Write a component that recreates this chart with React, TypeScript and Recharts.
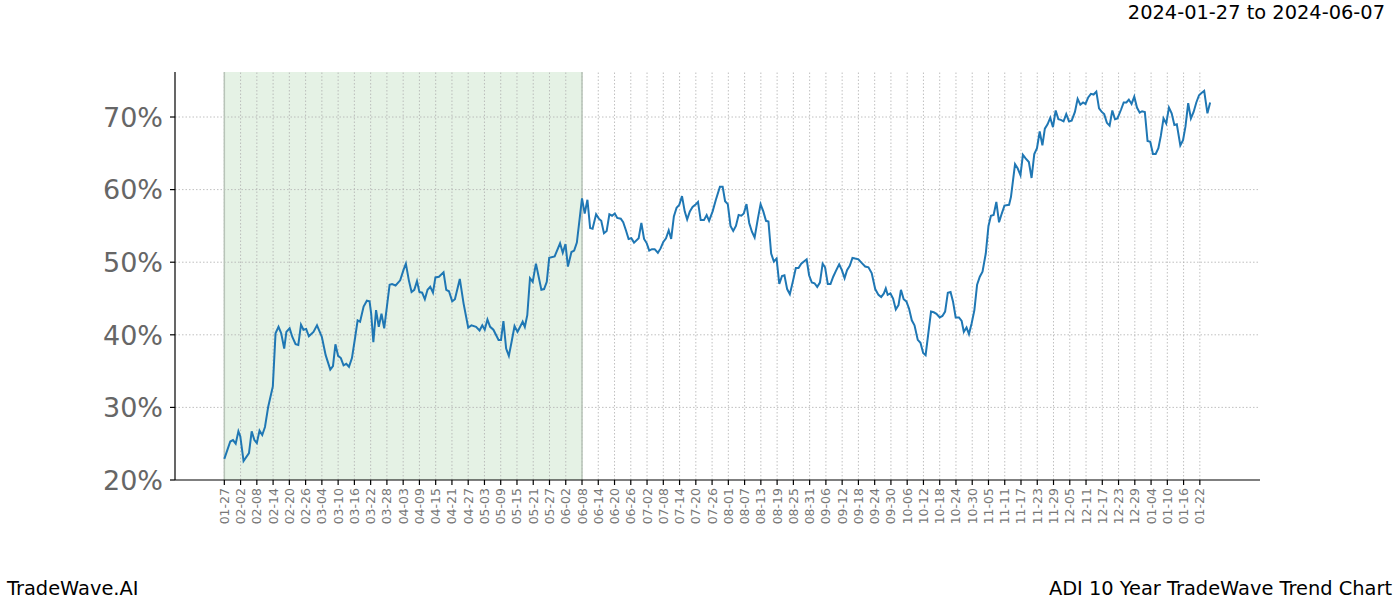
import {
  Line,
  LineChart,
  ReferenceArea,
  ReferenceLine,
  XAxis,
  YAxis,
} from 'recharts'

const FONT = '"DejaVu Sans", sans-serif'

// x tick labels, one every 6 days starting at day 0
const tickLabels = [
  '01-27', '02-02', '02-08', '02-14', '02-20', '02-26', '03-04', '03-10', '03-16', '03-22',
  '03-28', '04-03', '04-09', '04-15', '04-21', '04-27', '05-03', '05-09', '05-15', '05-21',
  '05-27', '06-02', '06-08', '06-14', '06-20', '06-26', '07-02', '07-08', '07-14', '07-20',
  '07-26', '08-01', '08-07', '08-13', '08-19', '08-25', '08-31', '09-06', '09-12', '09-18',
  '09-24', '09-30', '10-06', '10-12', '10-18', '10-24', '10-30', '11-05', '11-11', '11-17',
  '11-23', '11-29', '12-05', '12-11', '12-17', '12-23', '12-29', '01-04', '01-10', '01-16',
  '01-22',
]
const tickDays = tickLabels.map((_, i) => i * 6)

const yTicks = [20, 30, 40, 50, 60, 70]

// shaded training window (days)
const windowStart = 0
const windowEnd = 132

// days since 01-27
const days = [
  0, 2.2, 3.2, 4.2, 5.2, 5.9, 7.1, 9.1, 10.1, 11.1, 12, 13, 14, 15, 16.2, 17.9, 18.9, 20, 21, 22.1,
  22.9, 24.1, 25.1, 26.3, 27.3, 28.3, 29.2, 30.2, 31.2, 32.9, 34.2, 36, 37.4, 39.1, 40.1, 41, 42, 43, 44, 45,
  46, 47.1, 48.3, 49.2, 50.1, 51.4, 52.6, 53.6, 54.2, 55, 56, 57, 58, 59, 61, 61.9, 63.2, 64.9, 66.1, 67,
  68.1, 69.1, 70.1, 71.1, 72, 73, 74, 75, 76, 77, 77.9, 79.2, 80.9, 81.9, 82.9, 84.1, 85.1, 86.9, 88.3, 90,
  91.2, 92.9, 94.2, 95.2, 96.1, 97.1, 98.1, 99.3, 101.2, 102.1, 103, 104, 105, 106, 107.1, 108.2, 110.1, 110.9, 111.8, 112.8,
  113.8, 115, 117, 118, 119, 119.9, 121.9, 123.9, 124.9, 125.9, 126.8, 128.1, 129.1, 130.1, 132, 133, 134, 135, 135.9, 137.2,
  138.2, 139.1, 140.1, 141.1, 142.1, 143.1, 144.1, 145, 146.3, 147.2, 148.2, 149.2, 150.2, 151.2, 152.9, 153.9, 154.9, 155.9, 156.8, 157.8,
  158.8, 160, 161, 162, 163, 164, 164.9, 165.9, 166.9, 167.9, 168.9, 169.9, 170.8, 171.8, 172.8, 173.8, 174.8, 175.8, 177, 178,
  178.9, 180.2, 181.4, 182.9, 183.9, 184.8, 185.8, 186.8, 187.8, 188.8, 189.8, 190.8, 191.7, 192.7, 193.7, 194.7, 195.7, 196.9, 197.9, 198.9,
  199.9, 200.8, 201.8, 202.8, 203.8, 204.8, 205.8, 206.7, 207.7, 208.7, 209.9, 210.9, 211.9, 212.9, 213.9, 214.9, 215.8, 216.8, 217.8, 218.8,
  219.8, 220.8, 221.7, 222.7, 223.7, 224.7, 225.7, 226.9, 227.9, 228.9, 229.8, 230.8, 231.8, 232.8, 234, 235.2, 236.5, 237.7, 238.9, 240.2,
  241.4, 242.4, 243.4, 244.1, 244.8, 245.8, 246.8, 247.8, 248.8, 249.7, 250.7, 251.7, 252.7, 253.7, 254.7, 255.9, 256.9, 257.9, 258.8, 259.8,
  260.8, 261.8, 262.8, 264, 265, 266, 267, 268, 268.9, 269.9, 271.1, 272.1, 272.9, 273.9, 274.8, 275.8, 276.8, 277.8, 278.8, 279.8,
  281, 282, 282.9, 283.9, 284.9, 285.9, 286.9, 287.9, 289.6, 290.3, 291.8, 292.8, 293.8, 294.7, 295.7, 296.9, 297.9, 298.9, 299.9, 300.9,
  301.9, 302.8, 303.8, 304.8, 305.8, 306.8, 307.8, 308.7, 309.7, 310.7, 311.7, 312.7, 313.9, 314.9, 315.9, 316.9, 317.8, 318.8, 319.8, 320.8,
  321.8, 322.8, 323.8, 324.7, 325.7, 326.7, 327.7, 328.7, 329.6, 330.9, 331.9, 332.9, 333.8, 334.8, 335.8, 336.8, 337.8, 338.7, 339.7, 340.7,
  341.7, 342.7, 343.7, 344.7, 345.6, 346.6, 347.6, 348.6, 349.6, 350.6, 351.5, 352.8, 353.8, 354.7, 355.7, 356.7, 357.7, 358.7, 359.7, 360.6,
  361.6, 362.8, 363.8,
]

// trend strength, %
const trend = [
  22.9, 25.3, 25.5, 25.0, 26.7, 26.0, 22.6, 23.7, 26.7, 25.5, 25.1, 26.8, 26.2, 27.3, 30.1, 32.9, 40.2, 41.1, 40.2, 38.1,
  40.4, 40.9, 39.7, 38.7, 38.6, 41.4, 40.7, 40.8, 39.8, 40.4, 41.3, 39.7, 37.2, 35.2, 35.7, 38.7, 37.1, 36.8, 35.8, 36.0,
  35.6, 36.8, 39.7, 42.0, 41.8, 43.9, 44.7, 44.6, 42.9, 39.0, 43.4, 41.1, 42.9, 40.9, 46.9, 47.0, 46.8, 47.5, 48.9, 49.8,
  47.5, 45.9, 46.2, 47.4, 45.9, 45.8, 44.9, 46.2, 46.6, 45.8, 47.9, 48.0, 48.6, 46.2, 46.0, 44.6, 44.9, 47.7, 44.3, 41.0,
  41.3, 41.1, 40.6, 41.3, 40.7, 42.1, 41.1, 40.7, 39.3, 39.3, 41.9, 38.1, 37.1, 39.0, 41.2, 40.4, 41.8, 41.1, 42.7, 47.8,
  47.3, 49.8, 46.2, 46.3, 47.3, 50.6, 50.8, 52.6, 51.3, 52.5, 49.4, 51.4, 51.6, 52.7, 58.8, 56.7, 58.6, 54.7, 54.6, 56.6,
  56.0, 55.7, 54.0, 54.3, 56.6, 56.4, 56.7, 56.1, 56.0, 55.5, 54.4, 53.2, 53.3, 52.7, 53.3, 55.4, 53.2, 52.6, 51.6, 51.8,
  51.8, 51.3, 51.9, 52.8, 53.3, 54.4, 53.2, 56.3, 57.5, 57.9, 59.1, 57.0, 55.9, 57.0, 57.6, 57.9, 58.3, 55.8, 55.8, 56.5,
  55.7, 57.0, 58.6, 60.4, 60.4, 58.4, 58.0, 55.0, 54.3, 55.0, 56.5, 56.4, 56.7, 58.0, 55.4, 54.2, 53.4, 56.0, 58.0, 57.0,
  55.7, 55.6, 51.2, 50.1, 50.5, 47.0, 48.1, 48.2, 46.3, 45.6, 47.5, 49.2, 49.2, 49.8, 50.1, 50.4, 48.2, 47.2, 47.1, 46.6,
  47.2, 49.8, 49.3, 47.0, 47.0, 48.0, 48.8, 49.7, 48.9, 47.8, 48.9, 49.5, 50.6, 50.5, 50.4, 49.9, 49.4, 49.3, 48.5, 46.3,
  45.5, 45.2, 45.7, 46.4, 45.5, 45.7, 45.0, 43.5, 44.1, 46.2, 44.9, 44.6, 43.6, 42.0, 41.3, 39.3, 38.9, 37.5, 37.2, 40.2,
  43.2, 43.1, 42.9, 42.4, 42.6, 43.2, 45.8, 45.9, 44.6, 42.4, 42.4, 41.9, 40.4, 41.0, 40.1, 41.6, 43.4, 46.9, 48.0, 48.7,
  51.2, 55.0, 56.4, 56.5, 58.3, 55.5, 56.7, 57.8, 57.9, 59.0, 63.5, 62.9, 62.0, 64.8, 64.3, 63.8, 61.6, 64.9, 65.7, 68.0,
  66.1, 68.4, 69.0, 69.9, 68.6, 70.9, 69.7, 69.6, 69.4, 70.4, 69.4, 69.5, 70.7, 72.5, 71.7, 72.0, 71.8, 72.7, 73.2, 73.1,
  73.5, 71.2, 70.7, 70.4, 69.2, 68.8, 70.9, 69.7, 69.8, 71.0, 72.0, 72.0, 72.4, 71.8, 72.8, 71.3, 70.6, 70.8, 70.7, 66.7,
  66.6, 64.9, 64.9, 65.7, 67.4, 69.8, 69.1, 71.3, 70.5, 68.9, 69.0, 66.1, 66.8, 68.7, 71.9, 69.8, 70.7, 72.0, 73.0, 73.3,
  73.6, 70.5, 72.0,
]

const data = days.map((d, i) => ({ day: d, v: trend[i] }))

const XTick = (props: any) => {
  const { x, y, payload } = props
  const label = tickLabels[Math.round(payload.value / 6)] ?? ''
  return (
    <g transform={`translate(${x},${y})`}>
      <text
        transform="rotate(-90)"
        textAnchor="end"
        dy="0.36em"
        fontSize={12.5}
        fontFamily={FONT}
        fill="#777777"
      >
        {label}
      </text>
    </g>
  )
}

const YTick = (props: any) => {
  const { x, y, payload } = props
  return (
    <text x={x} y={y} dy="0.36em" textAnchor="end" fontSize={27} fontFamily={FONT} fill="#666666">
      {payload.value}%
    </text>
  )
}

const gridStyle = { stroke: '#b0b0b0', strokeWidth: 0.8, strokeDasharray: '1.5 2' }

export default function App() {
  return (
    <div style={{ position: 'absolute', left: 0, top: 0, width: 1400, height: 600, background: '#fff' }}>
      <LineChart
        width={1400}
        height={600}
        data={data}
        margin={{ top: 72, right: 140, left: 115, bottom: 70 }}
      >
        <ReferenceArea
          x1={windowStart}
          x2={windowEnd}
          fill="green"
          fillOpacity={0.1}
          stroke="none"
          ifOverflow="hidden"
        />
        {tickDays.map((d) => (
          <ReferenceLine key={`vx${d}`} x={d} {...gridStyle} />
        ))}
        {yTicks.slice(1).map((v) => (
          <ReferenceLine key={`hy${v}`} y={v} {...gridStyle} />
        ))}
        <ReferenceLine x={windowStart} stroke="#b8c4b8" strokeWidth={1.5} />
        <ReferenceLine x={windowEnd} stroke="#b8c4b8" strokeWidth={1.5} />
        <XAxis
          dataKey="day"
          type="number"
          domain={[-18.2, 382.2]}
          ticks={tickDays}
          interval={0}
          allowDataOverflow
          height={50}
          tickSize={5}
          tickMargin={3}
          tick={<XTick />}
          axisLine={{ stroke: '#000', strokeWidth: 1.2 }}
          tickLine={{ stroke: '#000', strokeWidth: 1.2 }}
        />
        <YAxis
          type="number"
          domain={[20, 76.2]}
          ticks={yTicks}
          allowDataOverflow
          width={60}
          tickSize={5}
          tickMargin={7}
          tick={<YTick />}
          axisLine={{ stroke: '#000', strokeWidth: 1.2 }}
          tickLine={{ stroke: '#000', strokeWidth: 1.2 }}
        />
        <Line
          type="linear"
          dataKey="v"
          stroke="#1f77b4"
          strokeWidth={2}
          dot={false}
          activeDot={false}
          isAnimationActive={false}
        />
      </LineChart>
      <svg
        width={1400}
        height={600}
        style={{ position: 'absolute', left: 0, top: 0, pointerEvents: 'none' }}
      >
        <text x={1385} y={19} textAnchor="end" fontSize={19.4} fontFamily={FONT} fill="#000">
          2024-01-27 to 2024-06-07
        </text>
        <text x={7} y={595} fontSize={19.4} fontFamily={FONT} fill="#000">
          TradeWave.AI
        </text>
        <text x={1392} y={595} textAnchor="end" fontSize={19.4} fontFamily={FONT} fill="#000">
          ADI 10 Year TradeWave Trend Chart
        </text>
      </svg>
    </div>
  )
}
